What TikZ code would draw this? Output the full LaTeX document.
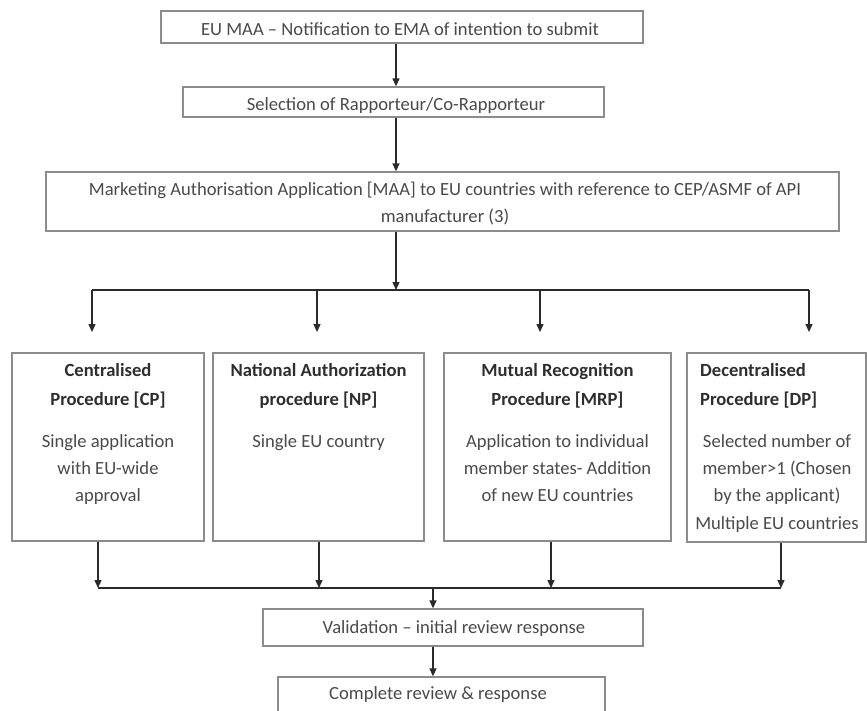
\documentclass[tikz,border=0pt]{standalone}
\usepackage{fontspec}
\setmainfont{Carlito}
\usetikzlibrary{arrows.meta}
\definecolor{boxc}{HTML}{8C8C8C}
\definecolor{txtc}{HTML}{4A4A4A}
\definecolor{ttlc}{HTML}{2E2E2E}
\definecolor{arrc}{HTML}{2A2A2A}
\begin{document}
\begin{tikzpicture}[x=1pt,y=-1pt,
  box/.style 2 args={draw=boxc,line width=1.3pt,inner sep=0pt,minimum width=#1,minimum height=#2},
  txt/.style={font=\fontsize{18.6}{27.3}\selectfont,text=txtc,inner sep=0pt,align=center},
  ttl/.style={font=\bfseries\fontsize{18.6}{29}\selectfont,text=ttlc,inner sep=0pt,align=center},
  conn/.style={draw=arrc,line width=1.3pt},
  arr/.style={conn,-{Triangle[width=7pt,length=8pt]}}]
\fill[white] (0,0) rectangle (867,710);
\useasboundingbox (0,0) rectangle (867,710);
% top chain
\node[box={482pt}{32pt}] (b1) at (402,27) {};
\node[txt,anchor=base] (b1t) at (400,35) {EU MAA – Notification to EMA of intention to submit};
\node[box={421pt}{30pt}] (b2) at (393.5,102) {};
\node[txt,anchor=base] (b2t) at (396,110) {Selection of Rapporteur/Co-Rapporteur};
\node[box={793pt}{59pt}] (b3) at (442.5,201.5) {};
\node[txt,anchor=north] (b3t) at (445,181) {\rule{0pt}{14pt}Marketing Authorisation Application [MAA] to EU countries with reference to CEP/ASMF of API\\manufacturer (3)};
% split coordinates
\coordinate (c1) at (396,290);
\coordinate (sL) at (92,290);
\coordinate (sR) at (809,290);
\coordinate (s2) at (317,290);
\coordinate (s3) at (540,290);
\coordinate (t1) at (92,332);
\coordinate (t2) at (317,332);
\coordinate (t3) at (540,332);
\coordinate (t4) at (809,332);
\draw[arr] (b1.south -| c1) -- (b2.north -| c1);
\draw[arr] (b2.south -| c1) -- (b3.north -| c1);
\draw[arr] (b3.south -| c1) -- (c1);
\draw[conn] (sL) -- (sR);
\draw[arr] (sL) -- (t1);
\draw[arr] (s2) -- (t2);
\draw[arr] (s3) -- (t3);
\draw[arr] (sR) -- (t4);
% procedure boxes
\node[box={192pt}{188pt}] (cp) at (108,447) {};
\node[box={211pt}{188pt}] (np) at (318.5,447) {};
\node[box={227pt}{188pt}] (mrp) at (557.5,447) {};
\node[box={179pt}{189pt}] (dp) at (776.5,447.5) {};
\node[ttl,anchor=north] (cpt) at (108,362) {\rule{0pt}{14pt}Centralised\\Procedure [CP]};
\node[txt,anchor=north] (cpb) at (108,433) {\rule{0pt}{14pt}Single application\\with EU-wide\\approval};
\node[ttl,anchor=north] (npt) at (318.5,362) {\rule{0pt}{14pt}National Authorization\\procedure [NP]};
\node[txt,anchor=north] (npb) at (318.5,433) {\rule{0pt}{14pt}Single EU country};
\node[ttl,anchor=north] (mrpt) at (557.5,362) {\rule{0pt}{14pt}Mutual Recognition\\Procedure [MRP]};
\node[txt,anchor=north] (mrpb) at (557.5,433) {\rule{0pt}{14pt}Application to individual\\member states- Addition\\of new EU countries};
\node[ttl,anchor=north west,align=left] (dpt) at (700,362) {\rule{0pt}{14pt}Decentralised\\Procedure [DP]};
\node[txt,anchor=north] (dpb) at (777,433) {\rule{0pt}{14pt}Selected number of\\member>1 (Chosen\\by the applicant)\\Multiple EU countries};
% merge
\coordinate (m1) at (98,588);
\coordinate (m2) at (319,588);
\coordinate (m3) at (551,588);
\coordinate (m4) at (781,588);
\coordinate (mc) at (433,588);
\draw[arr] (cp.south -| m1) -- (m1);
\draw[arr] (np.south -| m2) -- (m2);
\draw[arr] (mrp.south -| m3) -- (m3);
\draw[arr] (dp.south -| m4) -- (m4);
\draw[conn] (m1) -- (m4);
\node[box={380pt}{37pt}] (val) at (453,627.5) {};
\node[txt,anchor=base] (valt) at (454,633) {Validation – initial review response};
\node[box={327pt}{40pt}] (comp) at (441.5,697) {};
\node[txt,anchor=base] (compt) at (438,699) {Complete review \& response};
\draw[arr] (mc) -- (val.north -| mc);
\draw[arr] (val.south -| mc) -- (comp.north -| mc);
\end{tikzpicture}
\end{document}
